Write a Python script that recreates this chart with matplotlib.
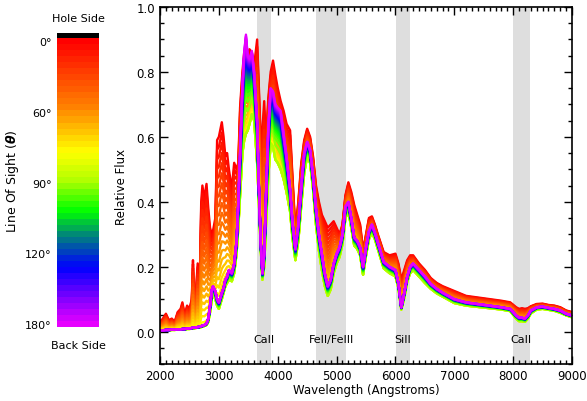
import numpy as np
import matplotlib
matplotlib.use('Agg')
import matplotlib.pyplot as plt
from matplotlib.colors import LinearSegmentedColormap

# wavelength grid (Angstroms)
wave = [2000, 2050, 2100, 2150, 2200, 2250, 2300, 2350, 2380, 2420,
        2460, 2500, 2540, 2560, 2580, 2610, 2640, 2670, 2700, 2720,
        2750, 2790, 2820, 2850, 2880, 2900, 2940, 2970, 3000, 3050,
        3080, 3110, 3140, 3170, 3220, 3260, 3300, 3330, 3360, 3400,
        3430, 3460, 3490, 3520, 3560, 3600, 3650, 3680, 3710, 3740,
        3770, 3800, 3840, 3880, 3920, 3960, 4000, 4050, 4100, 4150,
        4210, 4250, 4300, 4350, 4400, 4450, 4500, 4550, 4600, 4650,
        4700, 4750, 4800, 4850, 4900, 4950, 5000, 5050, 5100, 5150,
        5200, 5250, 5300, 5350, 5400, 5450, 5500, 5550, 5600, 5650,
        5700, 5800, 5900, 6000, 6050, 6100, 6150, 6200, 6250, 6300,
        6400, 6500, 6600, 6700, 6800, 7000, 7200, 7400, 7600, 7800,
        7950, 8050, 8100, 8150, 8200, 8250, 8300, 8400, 8500, 8600,
        8700, 8800, 8900, 9000]

# flux seen from the hole side (0 deg)
flux_hole = [0.03, 0.04, 0.055, 0.035, 0.04, 0.03, 0.06, 0.07, 0.09, 0.05,
             0.08, 0.07, 0.10, 0.22, 0.09, 0.12, 0.21, 0.10, 0.40, 0.45,
             0.41, 0.455, 0.38, 0.32, 0.30, 0.31, 0.35, 0.59, 0.60, 0.645,
             0.60, 0.54, 0.55, 0.50, 0.44, 0.52, 0.50, 0.52, 0.69, 0.80,
             0.86, 0.87, 0.84, 0.87, 0.86, 0.82, 0.90, 0.75, 0.60, 0.62,
             0.71, 0.58, 0.72, 0.80, 0.835, 0.79, 0.75, 0.71, 0.68, 0.64,
             0.62, 0.48, 0.31, 0.40, 0.52, 0.59, 0.625, 0.60, 0.54, 0.45,
             0.40, 0.36, 0.34, 0.32, 0.33, 0.34, 0.32, 0.30, 0.33, 0.42,
             0.46, 0.43, 0.39, 0.36, 0.33, 0.25, 0.30, 0.35, 0.355, 0.33,
             0.30, 0.245, 0.235, 0.24, 0.21, 0.16, 0.19, 0.22, 0.235, 0.235,
             0.21, 0.19, 0.165, 0.15, 0.14, 0.125, 0.11, 0.105, 0.10, 0.095,
             0.09, 0.075, 0.07, 0.072, 0.07, 0.072, 0.078, 0.085, 0.086, 0.082,
             0.08, 0.075, 0.065, 0.06]

# flux seen edge-on (90 deg)
flux_edge = [0.003, 0.003, 0.004, 0.004, 0.005, 0.005, 0.006, 0.006, 0.007, 0.007,
             0.008, 0.008, 0.009, 0.01, 0.01, 0.011, 0.012, 0.012, 0.014, 0.015,
             0.017, 0.02, 0.03, 0.06, 0.10, 0.115, 0.10, 0.08, 0.07, 0.10,
             0.12, 0.14, 0.15, 0.16, 0.155, 0.18, 0.24, 0.32, 0.42, 0.55,
             0.59, 0.61, 0.62, 0.64, 0.67, 0.65, 0.52, 0.40, 0.26, 0.16,
             0.20, 0.33, 0.48, 0.58, 0.57, 0.53, 0.52, 0.50, 0.47, 0.43,
             0.37, 0.29, 0.22, 0.28, 0.39, 0.49, 0.54, 0.52, 0.44, 0.33,
             0.25, 0.19, 0.14, 0.11, 0.13, 0.18, 0.21, 0.23, 0.27, 0.35,
             0.37, 0.32, 0.265, 0.255, 0.235, 0.175, 0.235, 0.285, 0.305, 0.285,
             0.255, 0.195, 0.18, 0.17, 0.135, 0.068, 0.105, 0.155, 0.18, 0.19,
             0.17, 0.15, 0.132, 0.118, 0.108, 0.088, 0.08, 0.076, 0.072, 0.068,
             0.063, 0.04, 0.032, 0.032, 0.03, 0.04, 0.056, 0.068, 0.07, 0.067,
             0.064, 0.058, 0.05, 0.044]

# flux seen from the back side (180 deg)
flux_back = [0.004, 0.004, 0.005, 0.005, 0.006, 0.006, 0.007, 0.007, 0.008, 0.008,
             0.009, 0.01, 0.011, 0.012, 0.012, 0.013, 0.014, 0.015, 0.017, 0.018,
             0.02, 0.025, 0.04, 0.08, 0.13, 0.14, 0.125, 0.10, 0.09, 0.12,
             0.135, 0.16, 0.17, 0.19, 0.18, 0.21, 0.28, 0.40, 0.55, 0.76,
             0.86, 0.915, 0.85, 0.84, 0.865, 0.80, 0.65, 0.45, 0.28, 0.18,
             0.24, 0.42, 0.63, 0.75, 0.74, 0.70, 0.69, 0.68, 0.61, 0.54,
             0.44, 0.34, 0.255, 0.33, 0.45, 0.55, 0.585, 0.56, 0.48, 0.38,
             0.30, 0.24, 0.18, 0.14, 0.16, 0.21, 0.24, 0.26, 0.30, 0.385,
             0.40, 0.35, 0.29, 0.28, 0.26, 0.20, 0.26, 0.31, 0.33, 0.305,
             0.275, 0.215, 0.20, 0.19, 0.15, 0.075, 0.12, 0.17, 0.20, 0.21,
             0.19, 0.17, 0.147, 0.132, 0.12, 0.10, 0.09, 0.085, 0.08, 0.075,
             0.07, 0.05, 0.043, 0.043, 0.04, 0.05, 0.065, 0.075, 0.077, 0.073,
             0.07, 0.065, 0.055, 0.05]

# shaded line regions
band_names = ['CaII', 'FeII/FeIII', 'SiII', 'CaII']
band_lo = [3650, 4650, 6010, 7990]
band_hi = [3890, 5160, 6250, 8280]

nlines = 48
mu = np.linspace(1, -1, nlines)   # cos(theta), hole side first

cmap = LinearSegmentedColormap.from_list('los', [
    (0.00, (1.0, 0.0, 0.0)),
    (0.23, (1.0, 0.5, 0.0)),
    (0.39, (1.0, 1.0, 0.0)),
    (0.49, (0.7, 1.0, 0.0)),
    (0.60, (0.0, 1.0, 0.0)),
    (0.69, (0.0, 0.5, 0.5)),
    (0.80, (0.0, 0.0, 1.0)),
    (1.00, (0.9, 0.0, 1.0))])

wave = np.array(wave)
fh = np.array(flux_hole)
fe = np.array(flux_edge)
fb = np.array(flux_back)

fig = plt.figure(figsize=(5.87, 4.02), dpi=100)
ax = fig.add_axes([0.2726, 0.092, 0.7019, 0.888])

for lo, hi in zip(band_lo, band_hi):
    ax.axvspan(lo, hi, color='#dedede', lw=0, zorder=0)
for name, lo, hi in zip(band_names, band_lo, band_hi):
    ax.text((lo + hi) / 2, -0.022, name, ha='center', va='center', fontsize=8)

for m in mu:
    if m >= 0:
        w = np.clip((m - 0.2) / 0.8, 0, 1) ** 1.1
        flux = fe + w * (fh - fe)
    else:
        w = (-m) ** 0.35
        flux = fe + w * (fb - fe)
    ax.plot(wave, flux, color=cmap((1 - m) / 2), lw=1.7, zorder=2)

ax.set_xlim(2000, 9000)
ax.set_ylim(-0.1, 1.0)
ax.set_xticks(np.arange(2000, 9001, 1000))
ax.set_xticks(np.arange(2000, 9001, 100), minor=True)
ax.set_yticks(np.arange(0, 1.01, 0.2))
ax.set_yticks(np.arange(-0.1, 1.001, 0.05), minor=True)
ax.set_yticklabels(['0.0', '0.2', '0.4', '0.6', '0.8', '1.0'])
ax.tick_params(which='both', direction='in', top=True, right=True, labelsize=8.5)
ax.tick_params(which='major', length=6, width=1)
ax.tick_params(which='minor', length=3, width=1)
for s in ax.spines.values():
    s.set_linewidth(1.2)
ax.set_xlabel('Wavelength (Angstroms)', fontsize=8.5, labelpad=1)
ax.set_ylabel('Relative Flux', fontsize=8.5, labelpad=6)

# colour bar of viewing angles
cax = fig.add_axes([0.0971, 0.184, 0.0716, 0.731])
d = 2.0 / (nlines - 1)
edges = np.linspace(-1 - d / 2, 1 + d / 2, nlines + 1)
cells = ((1 - mu[::-1]) / 2).reshape(-1, 1)
cax.pcolormesh([0, 1], edges, cells, cmap=cmap, vmin=0, vmax=1)
cax.axhspan(1 + d / 2, 1 + d / 2 + 0.85 * d, color='black', lw=0)
cax.set_ylim(-1 - d / 2, 1 + d / 2 + 0.85 * d)
cax.set_xlim(0, 1)
cax.set_xticks([])
cax.set_yticks([1, 0.5, 0, -0.5, -1])
cax.set_yticklabels(['0°', '60°', '90°', '120°', '180°'])
cax.tick_params(length=0, labelsize=8, pad=4)
for s in cax.spines.values():
    s.set_visible(False)

fig.text(78 / 587, 1 - 19 / 402, 'Hole Side', ha='center', va='center', fontsize=8)
fig.text(78 / 587, 1 - 346 / 402, 'Back Side', ha='center', va='center', fontsize=8)
fig.text(13 / 587, 1 - 181 / 402, r'Line Of Sight ($\boldsymbol{\theta}$)',
         ha='center', va='center', rotation=90, fontsize=9)

fig.savefig('out.png', dpi=100)
